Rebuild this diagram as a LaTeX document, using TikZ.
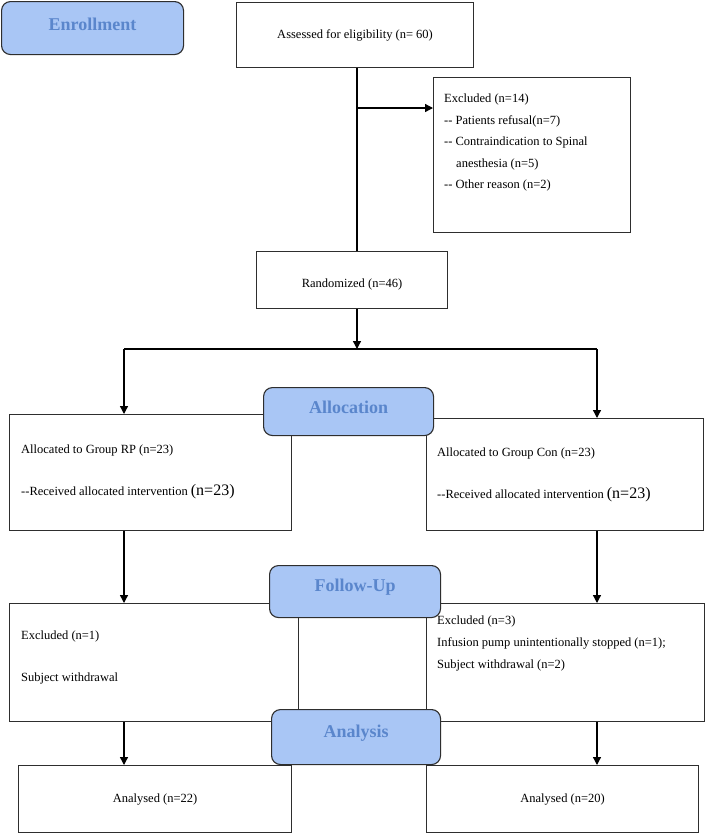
\documentclass[tikz,border=0pt]{standalone}
\usepackage{fontspec}
\setmainfont{Liberation Serif}
\usetikzlibrary{arrows.meta}
\definecolor{hdrfill}{HTML}{A9C6F5}
\definecolor{hdrtext}{HTML}{5A86CC}
\definecolor{edgecol}{HTML}{2E2E2E}
\newcommand\bodyfs{\fontsize{12.5}{15}\selectfont}
\newcommand\hdrfs{\fontsize{18}{22}\selectfont}
\newcommand\bigfs{\fontsize{16}{18}\selectfont}
\begin{document}
\begin{tikzpicture}[x=1pt,y=-1pt,
  box/.style={draw=edgecol, line width=1.1pt, inner sep=0pt, anchor=north west, font=\bodyfs},
  hdr/.style={draw=edgecol, line width=1.1pt, fill=hdrfill, rounded corners=9pt, anchor=north west, inner sep=0pt},
  hdrlbl/.style={text=hdrtext, font=\hdrfs\bfseries, inner sep=0pt, yshift=4pt},
  lbl/.style={anchor=west, inner sep=0pt, font=\bodyfs},
  link/.style={line width=1.3pt, draw=black},
  arr/.style={link, -{Triangle[length=8pt,width=8pt]}}]
\useasboundingbox (0,0) rectangle (709,833);
\fill[white] (0,0) rectangle (709,833);

% boxes
\node[box, minimum width=237pt, minimum height=65pt] (assess) at (236,2) {Assessed for eligibility (n= 60)};
\node[box, minimum width=197pt, minimum height=155pt] (excl) at (433,77) {};
\node[box, minimum width=191pt, minimum height=57pt] (rand) at (256,251) {};
\node[box, minimum width=282pt, minimum height=116pt] (rp) at (9,414) {};
\node[box, minimum width=277pt, minimum height=112pt] (gcon) at (426,418) {};
\node[box, minimum width=289pt, minimum height=118pt] (fl) at (9,603) {};
\node[box, minimum width=278pt, minimum height=118pt] (fr) at (426,603) {};
\node[box, minimum width=273pt, minimum height=67pt] (al) at (18,765) {Analysed (n=22)};
\node[box, minimum width=272pt, minimum height=67pt] (ar) at (426,765) {Analysed (n=20)};

% texts inside boxes
\node[lbl, anchor=center] (randtxt) at (352,284) {Randomized (n=46)};
\node[lbl] (ex1) at (444,99) {Excluded (n=14)};
\node[lbl] (ex2) at (444,121) {-{}- Patients refusal(n=7)};
\node[lbl] (ex3) at (444,142) {-{}- Contraindication to Spinal};
\node[lbl] (ex4) at (456,164) {anesthesia (n=5)};
\node[lbl] (ex5) at (444,185) {-{}- Other reason (n=2)};
\node[lbl] (rp1) at (21,450) {Allocated to Group RP (n=23)};
\node[lbl] (rp2) at (21,492) {-{}-Received allocated intervention {\bigfs(n=23)}};
\node[lbl] (gc1) at (437,453) {Allocated to Group Con (n=23)};
\node[lbl] (gc2) at (437,495) {-{}-Received allocated intervention {\bigfs(n=23)}};
\node[lbl] (fl1) at (21,636) {Excluded (n=1)};
\node[lbl] (fl2) at (21,678) {Subject withdrawal};
\node[lbl] (fr1) at (437,621) {Excluded (n=3)};
\node[lbl] (fr2) at (437,643) {Infusion pump unintentionally stopped (n=1);};
\node[lbl] (fr3) at (437,665) {Subject withdrawal (n=2)};

% connectors
\coordinate (tk) at (357,108);
\coordinate (sp) at (357,349);
\coordinate (sl) at (124,349);
\coordinate (sr) at (597,349);
\draw[link] (assess.south -| tk) -- (rand.north -| tk);
\draw[arr] (tk) -- (tk -| excl.west);
\draw[arr] (rand.south -| sp) -- (sp);
\draw[link] (sl) -- (sr);
\draw[arr] (sl) -- (sl |- rp.north);
\draw[arr] (sr) -- (sr |- gcon.north);
\draw[arr] (rp.south -| sl) -- (sl |- fl.north);
\draw[arr] (gcon.south -| sr) -- (sr |- fr.north);
\draw[arr] (fl.south -| sl) -- (sl |- al.north);
\draw[arr] (fr.south -| sr) -- (sr |- ar.north);

% stage headers
\node[hdr, minimum width=182pt, minimum height=53pt] (enroll) at (1,1) {};
\node[hdrlbl] (enrolltxt) at (enroll.center) {Enrollment};
\node[hdr, minimum width=170pt, minimum height=48pt] (alloc) at (263,387) {};
\node[hdrlbl] (alloctxt) at (alloc.center) {Allocation};
\node[hdr, minimum width=171pt, minimum height=52pt] (follow) at (269,565) {};
\node[hdrlbl] (followtxt) at (follow.center) {Follow-Up};
\node[hdr, minimum width=169pt, minimum height=55pt] (analysis) at (271,709) {};
\node[hdrlbl] (analysistxt) at (analysis.center) {Analysis};
\end{tikzpicture}
\end{document}
